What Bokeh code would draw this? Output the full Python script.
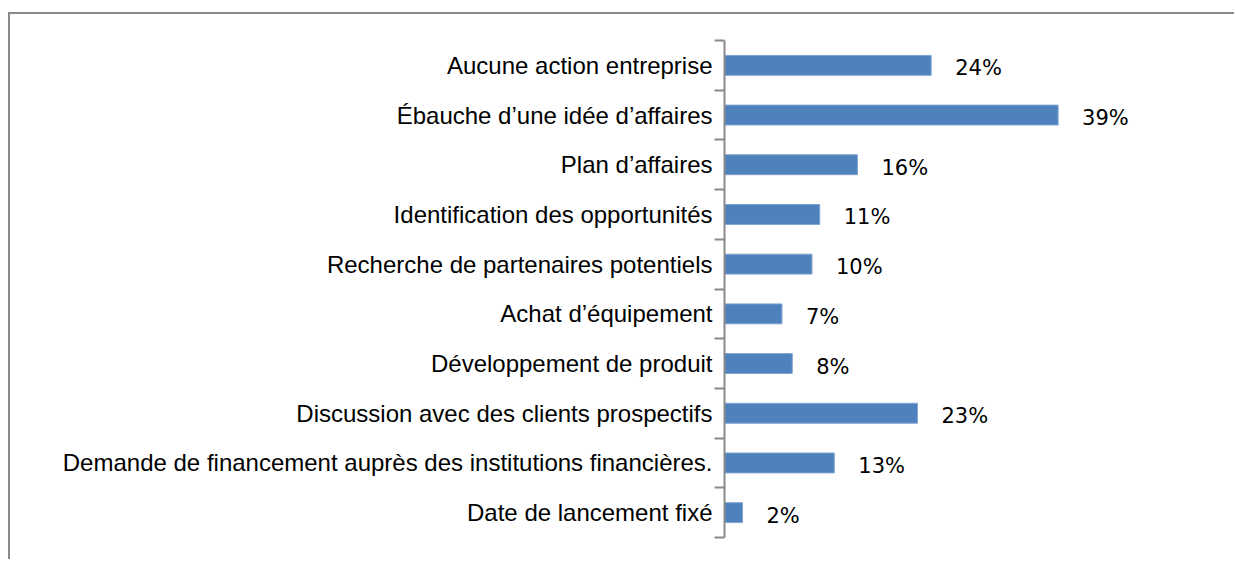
from bokeh.plotting import figure
from bokeh.models import (ColumnDataSource, Range1d, LinearAxis,
                          FixedTicker, CustomJSTickFormatter)
from bokeh.core.properties import value
from bokeh.embed import file_html
from bokeh.resources import INLINE

categories = [
    "Aucune action entreprise",
    "Ébauche d’une idée d’affaires",
    "Plan d’affaires",
    "Identification des opportunités",
    "Recherche de partenaires potentiels",
    "Achat d’équipement",
    "Développement de produit",
    "Discussion avec des clients prospectifs",
    "Demande de financement auprès des institutions financières.",
    "Date de lancement fixé",
]
values = [24.1, 38.9, 15.5, 11.1, 10.2, 6.7, 7.9, 22.5, 12.8, 2.1]
labels = ["24%", "39%", "16%", "11%", "10%", "7%", "8%", "23%", "13%", "2%"]

n = len(categories)
ypos = [n - 0.5 - i for i in range(n)]  # first category at top

W, H = 1226, 547
p = figure(width=W, height=H, output_backend="svg", toolbar_location=None,
           y_range=Range1d(0, n), x_range=Range1d(0, 59.7),
           x_axis_location=None, y_axis_location=None,
           min_border_left=714, min_border_top=26, min_border_bottom=24,
           min_border_right=0,
           styles={"border-top": "2px solid #898989",
                   "border-left": "2px solid #898989",
                   "margin-top": "12px",
                   "margin-left": "8px"})
p.outline_line_color = None
p.xgrid.visible = False
p.ygrid.visible = False
p.background_fill_color = "white"
p.border_fill_color = "white"

src = ColumnDataSource(dict(y=ypos, values=values, labels=labels))
p.hbar(y="y", right="values", left=0, height=0.4, source=src,
       fill_color="#4F81BD", line_color="#7FA3D0", line_width=1)
p.text(x="values", y="y", text="labels", source=src, x_offset=24, y_offset=3,
       text_baseline="middle", text_align="left",
       text_font=value("DejaVu Sans"), text_font_size="21px", text_color="black")

# tick-mark axis (category boundaries)
tick_axis = LinearAxis(ticker=FixedTicker(ticks=list(range(n + 1))),
                       formatter=CustomJSTickFormatter(code="return ''"))
tick_axis.axis_line_color = "#898989"
tick_axis.axis_line_width = 2
tick_axis.major_tick_line_color = "#898989"
tick_axis.major_tick_line_width = 2
tick_axis.major_tick_out = 10
tick_axis.major_tick_in = 0
tick_axis.minor_tick_line_color = None
tick_axis.major_label_standoff = 0
p.add_layout(tick_axis, "left")

# category label axis
lab_axis = LinearAxis(ticker=FixedTicker(ticks=ypos),
                      formatter=CustomJSTickFormatter(
                          args=dict(names=categories, n=n),
                          code="return names[Math.round(n - 0.5 - tick)]"))
lab_axis.axis_line_color = None
lab_axis.major_tick_line_color = None
lab_axis.minor_tick_line_color = None
lab_axis.major_tick_out = 0
lab_axis.major_tick_in = 0
lab_axis.major_label_standoff = 2
lab_axis.major_label_text_font = "Liberation Sans"
lab_axis.major_label_text_font_size = "24px"
lab_axis.major_label_text_color = "black"
p.add_layout(lab_axis, "left")

open("out.html", "w").write(file_html(p, INLINE))
